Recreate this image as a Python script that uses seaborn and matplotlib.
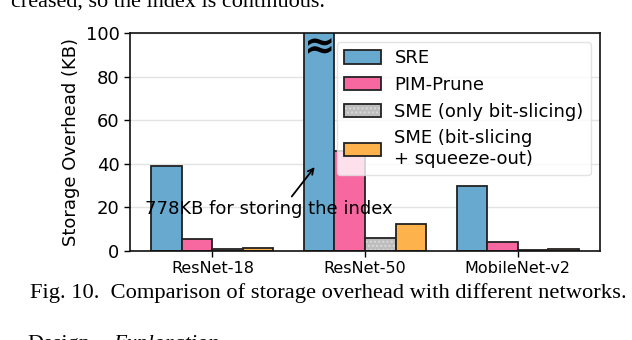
import matplotlib
matplotlib.use("Agg")
import matplotlib.pyplot as plt
import matplotlib.colors as mcolors
import numpy as np
import pandas as pd
import seaborn as sns

# Data (KB)
networks = ["ResNet-18", "ResNet-50", "MobileNet-v2"]
methods = ["SRE", "PIM-Prune", "SME (only bit-slicing)", "SME (bit-slicing\n+ squeeze-out)"]
sre = [39, 778, 30]
pim_prune = [5.5, 46, 4.2]
sme_slice = [0.8, 6, 0.6]
sme_squeeze = [1.3, 12.5, 0.9]
colors = ["#67a9cf", "#f768a1", "#bdbdbd", "#feb24c"]

df = pd.DataFrame({
    "network": networks * 4,
    "method": [m for m in methods for _ in networks],
    "kb": sre + pim_prune + sme_slice + sme_squeeze,
})

sns.set_style("white")
plt.rcParams["font.family"] = ["DejaVu Sans"]
for k in ["text.color", "axes.labelcolor", "xtick.color", "ytick.color"]:
    plt.rcParams[k] = "black"

fig = plt.figure(figsize=(6.32, 3.4), dpi=100)
ax = fig.add_axes([130 / 632, 1 - 251 / 340, 470 / 632, 218 / 340])
ax.set_axisbelow(True)
ax.yaxis.grid(True, color="#e3e3e3", linewidth=1)

sns.barplot(data=df, x="network", y="kb", hue="method", hue_order=methods,
            order=networks, palette=colors, width=0.8, edgecolor="#222222",
            linewidth=1.3, saturation=1, ax=ax)

# light dotted texture on the grey bars
for p in ax.containers[2].patches:
    p.set_hatch("....")
    p._hatch_color = mcolors.to_rgba("#d9d9d9")

ax.set_ylim(0, 100)
ax.set_xlim(-0.54, 2.54)
ax.set_yticks([0, 20, 40, 60, 80, 100])
ax.set_xlabel("")
ax.set_ylabel("Storage Overhead (KB)", fontsize=13)
ax.tick_params(axis="y", labelsize=13, length=4, width=1, direction="out", left=True)
ax.tick_params(axis="x", labelsize=11.5, length=4, width=1, direction="out", bottom=True)
for s in ax.spines.values():
    s.set_color("#111111")
    s.set_linewidth(1.2)

# break mark on the clipped SRE bar
ax.text(0.7, 93, "\u2248", ha="center", va="center", fontsize=27,
        fontweight="bold", color="black")
ax.text(0.37, 19.3, "778KB for storing the index", fontsize=13,
        ha="center", va="center")
ax.annotate("", xy=(0.67, 38.5), xytext=(0.52, 25),
            arrowprops=dict(arrowstyle="->", color="black", lw=1.3,
                            shrinkA=0, shrinkB=0))

leg = ax.legend(loc="upper right", fontsize=13, frameon=True, framealpha=0.8,
                borderaxespad=0.5, handlelength=2.05, handleheight=0.75,
                labelspacing=0.48, handletextpad=0.75, borderpad=0.4)
leg.get_frame().set_edgecolor("#dddddd")
leg.legend_handles[2].set_hatch("....")
leg.legend_handles[2]._hatch_color = mcolors.to_rgba("#d9d9d9")

fig.text(30 / 632, 1 - 293 / 340, "Fig. 10.  Comparison of storage overhead with different networks.",
         family="Liberation Serif", fontsize=16.2, va="center", ha="left")
fig.text(325 / 632, 1 - 7 / 340, "creased, so the index is continuous.",
         family="Liberation Serif", fontsize=16, va="baseline", ha="right")
fig.text(27 / 632, 1 - 335 / 340, "Design", family="Liberation Serif",
         fontsize=16, va="top", ha="left")
fig.text(113 / 632, 1 - 335 / 340, "Exploration", family="Liberation Serif",
         fontsize=16, va="top", ha="left", style="italic")

fig.savefig("out.png", dpi=100)
